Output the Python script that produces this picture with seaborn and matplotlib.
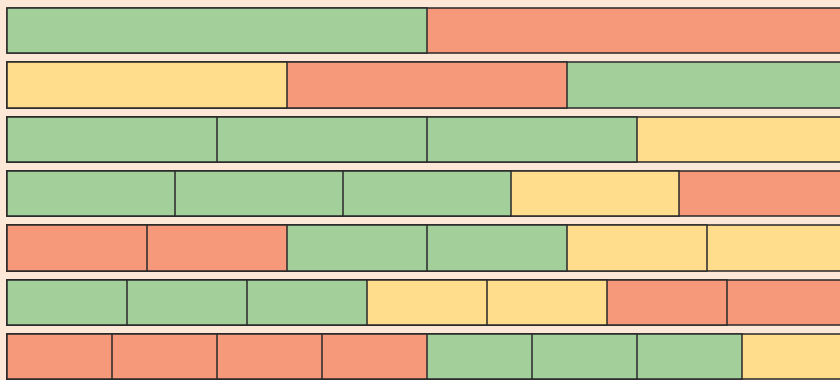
import seaborn as sns
import matplotlib
matplotlib.use("Agg")
import matplotlib.pyplot as plt
import pandas as pd

# Segment colours of each row, left to right (every row is split into equal parts)
rows = ["r1", "r2", "r3", "r4", "r5", "r6", "r7"]
row_colors = [
    ["G", "R"],
    ["Y", "R", "G"],
    ["G", "G", "G", "Y"],
    ["G", "G", "G", "Y", "R"],
    ["R", "R", "G", "G", "Y", "Y"],
    ["G", "G", "G", "Y", "Y", "R", "R"],
    ["R", "R", "R", "R", "G", "G", "G", "Y"],
]
palette = {"G": "#a3cf9b", "R": "#f6987a", "Y": "#ffdd8c"}
bg = "#fde8d8"

sns.set_theme(style="white")

fig = plt.figure(figsize=(8.4, 3.8), dpi=100, facecolor=bg)
ax = fig.add_axes([0, 0, 1, 1])
ax.set_facecolor(bg)

# Stacked bars drawn as cumulative bars, longest first
max_n = max(len(c) for c in row_colors)
for k in range(max_n - 1, -1, -1):
    recs = []
    for name, cols in zip(rows, row_colors):
        n = len(cols)
        if k < n:
            recs.append({"row": name, "cum": (k + 1) / n, "col": cols[k]})
    layer = pd.DataFrame(recs)
    sns.barplot(data=layer, x="cum", y="row", hue="col", palette=palette,
                order=rows, dodge=False, legend=False, width=0.834,
                saturation=1, edgecolor="#2b2b2b", linewidth=1.1, ax=ax,
                orient="y")

ax.set_xlim(-7 / 840, 833 / 840)
ax.set_ylim(6.43, -0.565)
ax.axis("off")

fig.savefig("out.png", dpi=100, facecolor=bg)
